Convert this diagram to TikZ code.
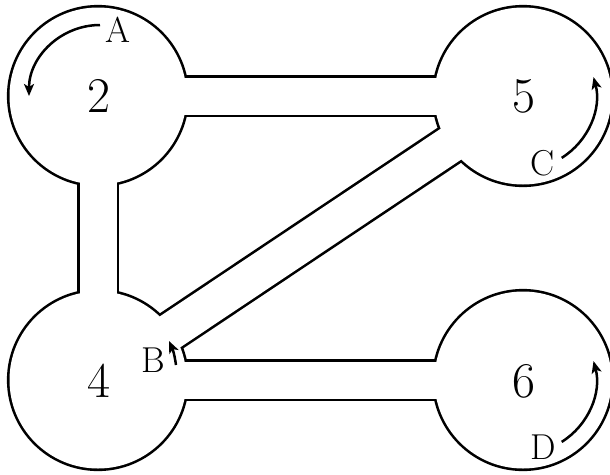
\documentclass[tikz,border=0pt]{standalone}
\usepackage{fontspec}
\usetikzlibrary{calc,arrows.meta}
\newcommand\ribbonR{88.5}
\newcommand\ribbonW{18.5}
\newcommand\ribbonparts[1]{%
  \path[#1] (c2) circle[radius=\ribbonR];
  \path[#1] (c5) circle[radius=\ribbonR];
  \path[#1] (c4) circle[radius=\ribbonR];
  \path[#1] (c6) circle[radius=\ribbonR];
  \path[#1] ($(c2)+(0,-\ribbonW)$) rectangle ($(c5)+(0,\ribbonW)$);
  \path[#1] ($(c2)+(-\ribbonW,0)$) rectangle ($(c4)+(\ribbonW,0)$);
  \path[#1] ($(c4)+(0,-\ribbonW)$) rectangle ($(c6)+(0,\ribbonW)$);
  \path[#1] ($(c4)!\ribbonW pt!90:(c5)$) -- ($(c5)!\ribbonW pt!-90:(c4)$)
     -- ($(c5)!\ribbonW pt!90:(c4)$) -- ($(c4)!\ribbonW pt!-90:(c5)$) -- cycle;
}
\begin{document}
\begin{tikzpicture}[x=1pt,y=-1pt,
  outline/.style={draw=black,line width=5.2pt},
  inside/.style={fill=white},
  arr/.style={line width=2.5pt,-{Stealth[length=12pt,width=10pt,inset=3pt]}},
  num/.style={font=\fontsize{50}{60}\selectfont,inner sep=0pt},
  lab/.style={font=\fontsize{36}{43}\selectfont,inner sep=0pt}]
\useasboundingbox (0,0) rectangle (610,474);
\coordinate (c2) at (98,96);
\coordinate (c5) at (523,96);
\coordinate (c4) at (98,380);
\coordinate (c6) at (523,380);
\ribbonparts{outline}
\ribbonparts{inside}
\node[num] (n2) at (99,96) {2};
\node[num] (n5) at (524,96) {5};
\node[num] (n4) at (99,381) {4};
\node[num] (n6) at (524,381) {6};
\node[lab] (la) at (118,30) {A};
\node[lab] (lc) at (543,163) {C};
\node[lab] (ld) at (543,447) {D};
\node[lab] (lb) at (153,360) {B};
\draw[arr] ($(c2)+(2,-71)$) arc[start angle=-90,end angle=-180,radius=71];
\draw[arr] ($(c5)+(58:73)$) arc[start angle=58,end angle=-15,radius=73];
\draw[arr] ($(c6)+(58:73)$) arc[start angle=58,end angle=-15,radius=73];
\draw[arr] (176,365) to[bend right=8] (169,341);
\end{tikzpicture}
\end{document}
